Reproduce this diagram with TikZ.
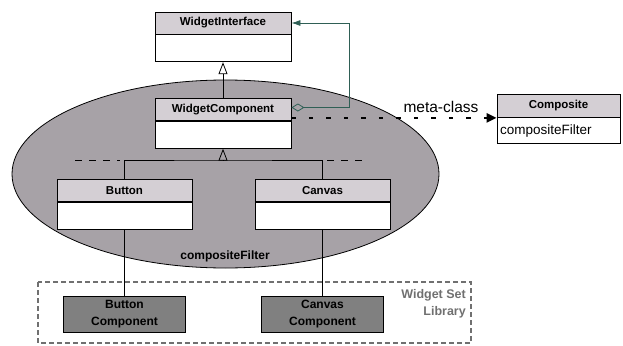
\documentclass[tikz,border=0pt]{standalone}
\usepackage{fontspec}
\setmainfont{Liberation Sans}
\usepackage{tikz}
\usetikzlibrary{arrows.meta,positioning,shapes.geometric}
\definecolor{HeadGrey}{RGB}{212,207,212}
\definecolor{FilterGrey}{RGB}{167,162,167}
\definecolor{CompGrey}{RGB}{128,128,128}
\definecolor{LibGrey}{RGB}{112,112,112}
\definecolor{LinkTeal}{RGB}{47,95,85}

\begin{document}
\begin{tikzpicture}[x=1pt, y=-1pt,
    classhead/.style={draw, fill=HeadGrey, minimum width=136pt, minimum height=22pt, inner sep=0pt, line width=0.8pt, font=\bfseries\fontsize{11.5}{13}\selectfont},
    classbody/.style={draw, fill=white, minimum width=136pt, minimum height=27pt, inner sep=0pt, line width=0.8pt},
    libcomp/.style={draw, fill=CompGrey, minimum width=122pt, minimum height=36pt, inner sep=0pt, line width=0.8pt, align=center, font=\bfseries\fontsize{12}{16.5}\selectfont},
    inherit/.style={line width=0.8pt, -{Triangle[open, length=12pt, width=9pt]}},
    plain/.style={line width=0.8pt},
    moredash/.style={line width=0.9pt, dash pattern=on 7pt off 7pt},
    metalink/.style={line width=2.6pt, dash pattern=on 4.5pt off 13pt, -{Triangle[length=10pt, width=9pt]}},
    aggregate/.style={LinkTeal, line width=0.8pt, {Diamond[open, length=13pt, width=8pt]}-{Latex[length=9pt, width=6pt]}}
]
    \useasboundingbox (0,0) rectangle (623,345);

    % composite filter region
    \node[ellipse, draw, fill=FilterGrey, line width=0.8pt, minimum width=427pt, minimum height=188pt, inner sep=0pt] (filter) at (225.5,174) {};
    \node[font=\bfseries\fontsize{12}{14}\selectfont] (filterlbl) at (225,256) {compositeFilter};

    % widget set library
    \draw[LibGrey, line width=1.4pt, dash pattern=on 5pt off 3pt] (38,282) rectangle (471,343);
    \node[anchor=north east, align=right, text=LibGrey, inner sep=0pt, font=\bfseries\fontsize{12.5}{17}\selectfont] (libname) at (466,289) {Widget Set\\Library};

    % classes
    \node[classhead] (wi) at (223,23) {WidgetInterface};
    \node[classbody, below=0pt of wi] (wi-body) {};
    \node[classhead] (wc) at (223,109.5) {WidgetComponent};
    \node[classbody, below=0pt of wc] (wc-body) {};
    \node[classhead, minimum width=135pt] (btn) at (124.5,190.5) {Button};
    \node[classbody, minimum width=135pt, below=0pt of btn] (btn-body) {};
    \node[classhead, minimum width=135pt] (cv) at (322.5,190.5) {Canvas};
    \node[classbody, minimum width=135pt, below=0pt of cv] (cv-body) {};
    \node[classhead, minimum width=123pt, minimum height=23pt] (cp) at (558.5,105.5) {Composite};
    \node[classbody, minimum width=123pt, minimum height=26pt, below=0pt of cp, text width=117pt, align=left, font=\fontsize{13.5}{15}\selectfont] (cp-body) {compositeFilter};

    % library components
    \node[libcomp] (btncomp) at (124.5,314) {Button\\Component};
    \node[libcomp] (cvcomp) at (322.5,314) {Canvas\\Component};

    % generalisation
    \draw[inherit] (wc.north) -- (wi-body.south);
    \coordinate (bus) at (223,160);
    \draw[plain] (btn.north) |- (bus) -| (cv.north);
    \draw[inherit] (bus) -- (wc-body.south);
    \draw[moredash] (75,160) -- (120,160);
    \draw[moredash] (327,160) -- (368,160);

    % realisation in the library
    \draw[plain] (btn-body.south) -- (btncomp.north);
    \draw[plain] (cv-body.south) -- (cvcomp.north);

    % aggregation back to the interface
    \coordinate (turn) at (349,23);
    \draw[aggregate] ([yshift=2pt]wc.east) -| (turn) -- (wi.east);

    % meta-class link
    \coordinate (metastart) at ([yshift=3pt]wc-body.north east);
    \draw[metalink] (metastart) -- (metastart -| cp-body.west);
    \node[font=\fontsize{15.5}{17}\selectfont] (metalbl) at (441,107) {meta-class};
\end{tikzpicture}
\end{document}
